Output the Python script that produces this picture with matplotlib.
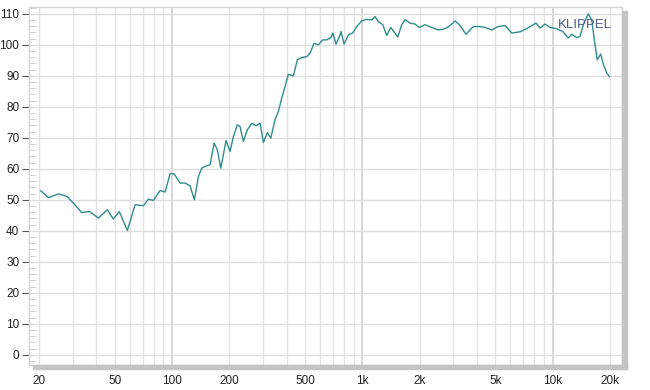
import numpy as np
import matplotlib
matplotlib.use("Agg")
import matplotlib.pyplot as plt
from matplotlib.ticker import FixedLocator, NullFormatter, MultipleLocator
from matplotlib.patches import Rectangle

# frequency response
freq = [20.4, 22.4, 25.3, 28.0, 30.3, 33.5, 36.8, 41.0, 45.7, 49.1, 52.8, 58.2,
        63.9, 70.7, 75.1, 79.8, 86.5, 91.9, 97.6, 102.4, 110.2, 117.0, 124.3,
        131.0, 137.5, 143.2, 152.2, 158.4, 166.3, 173.0, 180.3, 192.2, 201.7,
        210.0, 220.3, 227.7, 236.9, 248.6, 262.4, 276.4, 290.1, 301.9, 316.8,
        330.1, 347.7, 362, 377.1, 392.6, 408.5, 434.0, 455.4, 480.4, 510.4,
        531.2, 557.5, 587.3, 619.4, 650.2, 684.9, 699.2, 727.6, 763.6, 772.7,
        801.3, 844.1, 890.3, 934.5, 992.7, 1054.6, 1120.3, 1166, 1214, 1280,
        1344, 1410, 1455, 1535, 1611, 1677, 1781, 1892, 1993, 2136, 2315, 2508,
        2720, 2889, 3070, 3234, 3506, 3831, 4154, 4413, 4786, 5185, 5622, 6097,
        6742, 7311, 7767, 8182, 8588, 9121, 9690, 10508, 11299, 12093, 12600,
        13386, 13932, 14500, 15403, 16054, 16704, 17175, 17898, 18471, 19248,
        19861]
spl = [52.9, 50.7, 51.9, 51.1, 48.9, 45.9, 46.2, 44.1, 46.8, 43.8, 46.2, 40.1,
       48.4, 48.1, 50.2, 49.8, 53.0, 52.5, 58.4, 58.4, 55.4, 55.4, 54.5,
       50.0, 57.5, 60.2, 61.0, 61.3, 68.3, 66.1, 60.2, 69.1, 65.6,
       70.4, 74.2, 73.6, 68.8, 72.6, 74.7, 73.9, 74.7, 68.5, 71.7,
       69.9, 75.8, 78.5, 82.8, 86.6, 90.5, 90.0, 95.2, 95.9, 96.2,
       97.3, 100.5, 100.0, 101.6, 101.6, 102.4, 103.8, 100.2, 103.2, 104.3,
       100.2, 103.2, 103.8, 105.9, 107.7, 108.2, 108.0, 109.1, 107.5, 106.5,
       103.0, 105.6, 104.5, 102.5, 106.5, 108.1, 107.0, 106.7, 105.6, 106.5, 105.6, 104.8,
       105.2, 106.2, 107.7, 106.5, 103.4, 105.9, 105.9, 105.6, 104.8, 105.9, 106.2, 103.8,
       104.2, 105.2, 106.2, 107.0, 105.4, 106.7, 105.6, 105.2, 104.3, 102.2, 103.4,
       102.3, 102.7, 106.5, 110.0, 108.0, 100.0, 95.2, 97.0, 93.8, 90.9,
       89.8]

xticks = [20, 50, 100, 200, 500, 1000, 2000, 5000, 10000, 20000]
xlabels = ["20", "50", "100", "200", "500", "1k", "2k", "5k", "10k", "20k"]
yticks = list(range(0, 111, 10))

plt.rcParams['font.family'] = ['Liberation Sans', 'DejaVu Sans']

fig = plt.figure(figsize=(6.5, 3.9), dpi=100)
ax = fig.add_axes([29/650, 1-365/390, (622-29)/650, (365-7)/390])

ax.set_xscale('log')
ax.set_xlim(17.7, 23160)
ax.set_ylim(-3.3, 112.2)

# grid lines: every 1..9 per decade, decade lines a bit darker
for dec in [10, 100, 1000, 10000]:
    for m in range(1, 10):
        f = dec * m
        if f < 18 or f > 23000:
            continue
        if m == 1:
            ax.axvline(f, color='#d0d0d0', lw=1.2, zorder=1)
        else:
            ax.axvline(f, color='#e2e2e2', lw=1.0, zorder=1)
for v in yticks:
    ax.axhline(v, color='#dedede', lw=1.0, zorder=1)

ax.plot(freq, spl, color='#2f8c8c', lw=1.0, zorder=3)

ax.xaxis.set_major_locator(FixedLocator(xticks))
ax.set_xticklabels(xlabels)
ax.xaxis.set_minor_formatter(NullFormatter())
ax.tick_params(axis='x', which='both', length=0, pad=7, labelsize=8.5, colors='#222222')

ax.set_yticks(yticks)
ax.yaxis.set_minor_locator(MultipleLocator(2))
ax.tick_params(axis='y', which='major', direction='out', length=5, color='#555555',
               labelsize=8.5, labelcolor='#222222', pad=2)
ax.tick_params(axis='y', which='minor', direction='in', length=5, color='#cccccc')

for s in ax.spines.values():
    s.set_color('#d4d4d4')
    s.set_linewidth(1.0)

# drop shadow right and bottom
fig.patches.append(Rectangle((622/650, 1-369/390), 5/650, (369-11)/390,
                             transform=fig.transFigure, color='#c4c4c4', zorder=0))
fig.patches.append(Rectangle((33/650, 1-369/390), (627-33)/650, 4/390,
                             transform=fig.transFigure, color='#c4c4c4', zorder=0))

ax.text(0.983, 0.95, "KLIPPEL", transform=ax.transAxes, ha='right', va='center',
        fontsize=9.5, color='#4d5b8c', zorder=4)

fig.savefig("out.png", dpi=100)
